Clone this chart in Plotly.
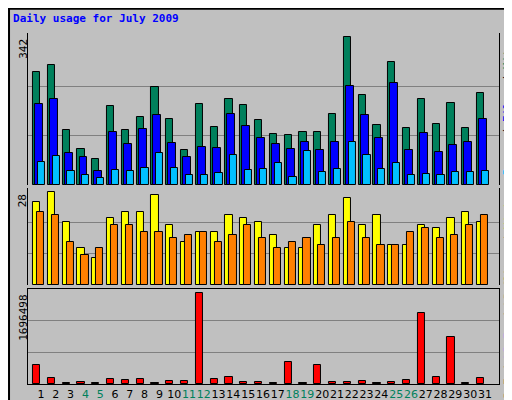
import plotly.graph_objects as go

days = list(range(1, 32))
hits = [261, 277, 128, 84, 60, 184, 128, 158, 226, 154, 81, 188, 135, 200, 186, 151,
        119, 116, 123, 123, 165, 342, 209, 140, 286, 131, 200, 142, 191, 133, 214]
files = [188, 200, 74, 65, 33, 123, 95, 130, 163, 98, 65, 88, 86, 165, 137, 109,
         95, 84, 100, 81, 100, 230, 163, 109, 237, 81, 121, 77, 93, 100, 154]
pages = [54, 67, 33, 23, 16, 35, 33, 40, 74, 40, 23, 23, 28, 70, 35, 37,
         51, 19, 79, 30, 37, 100, 70, 37, 51, 23, 26, 23, 30, 30, 33]
visits = [25, 28, 19, 11, 8, 20, 22, 22, 27, 18, 13, 16, 16, 21, 20, 19,
          15, 11, 11, 18, 21, 26, 18, 21, 12, 12, 18, 17, 20, 22, 19]
sites = [22, 21, 13, 9, 11, 18, 18, 16, 16, 14, 15, 16, 13, 15, 18, 14,
         11, 13, 14, 12, 14, 19, 14, 12, 12, 16, 17, 14, 15, 18, 21]
kbytes = [359000, 118000, 25000, 43000, 25000, 99000, 80000, 99000, 25000, 62000, 62000,
          1696498, 99000, 136000, 43000, 43000, 25000, 415000, 25000, 359000, 43000,
          43000, 62000, 25000, 43000, 80000, 1325000, 136000, 879000, 25000, 118000]
weekend = [4, 5, 11, 12, 18, 19, 25, 26]

line = dict(color="black", width=1)
fig = go.Figure()
fig.add_trace(go.Bar(x=days, y=hits, marker=dict(color="#00805C", line=line), offset=-0.54, width=0.49, yaxis="y3"))
fig.add_trace(go.Bar(x=days, y=files, marker=dict(color="#0000FF", line=line), offset=-0.4, width=0.54, yaxis="y3"))
fig.add_trace(go.Bar(x=days, y=pages, marker=dict(color="#00C0FF", line=line), offset=-0.22, width=0.49, yaxis="y3"))
fig.add_trace(go.Bar(x=days, y=visits, marker=dict(color="#FFFF00", line=line), offset=-0.54, width=0.48, yaxis="y2"))
fig.add_trace(go.Bar(x=days, y=sites, marker=dict(color="#FF8000", line=line), offset=-0.27, width=0.48, yaxis="y2"))
fig.add_trace(go.Bar(x=days, y=kbytes, marker=dict(color="#FF0000", line=line), offset=-0.54, width=0.49, yaxis="y"))

ticktext = ['<span style="color:#00805C">%d</span>' % d if d in weekend else str(d) for d in days]
grid = dict(showgrid=True, gridcolor="#808080", gridwidth=1, zeroline=False, showticklabels=False,
            showline=True, linecolor="black", mirror=True, fixedrange=True)

kb_top = 1764000
fig.update_layout(
    width=512, height=400, margin=dict(l=0, r=0, t=0, b=0),
    paper_bgcolor="#C0C0C0", plot_bgcolor="#C0C0C0",
    barmode="overlay", showlegend=False, bargap=0,
    font=dict(family="DejaVu Sans Mono", size=11, color="black"),
    xaxis=dict(domain=[0.039, 0.959], range=[0.12, 31.95], tickvals=days, ticktext=ticktext,
               tickangle=0, showgrid=False, showline=True, linecolor="black", mirror=True, ticks="",
               anchor="y", tickfont=dict(family="DejaVu Sans", size=11)),
    yaxis=dict(grid, domain=[0.06, 0.2975], range=[0, kb_top], tickvals=[kb_top / 3, kb_top * 2 / 3]),
    yaxis2=dict(grid, domain=[0.3075, 0.55], range=[0, 29.1], tickvals=[9.33, 18.67]),
    yaxis3=dict(grid, domain=[0.5575, 0.9375], range=[0, 352], tickvals=[114, 228]),
    title=dict(text="<b>Daily usage for July 2009</b>", x=0.01, y=0.975, xanchor="left", yanchor="middle",
               font=dict(family="DejaVu Sans Mono", size=11, color="#0000FF")),
    shapes=[dict(type="rect", xref="paper", yref="paper", x0=0.002, y0=0.002, x1=0.998, y1=0.998,
                 line=dict(color="black", width=2))],
)

ann = [("342", 0.9375), ("28", 0.55), ("1696498", 0.2975)]
for txt, y in ann:
    fig.add_annotation(text=txt, x=0.029, y=y - 0.01, xref="paper", yref="paper", textangle=-90,
                       xanchor="center", yanchor="top", showarrow=False, font=dict(size=11))

right = [
    ('<span style="color:#00C0FF">Pages</span> / <span style="color:#0000FF">Files</span> / <span style="color:#00805C">Hits</span>', 0.7475),
    ('<span style="color:#FF8000">Sites</span> / <span style="color:#FFFF00">Visits</span>', 0.43),
    ('<span style="color:#FF0000">kB F</span> / <span style="color:#0000FF">kB In</span> / <span style="color:#00805C">kB Out</span>', 0.18),
]
for txt, y in right:
    fig.add_annotation(text=txt, x=0.977, y=y, xref="paper", yref="paper", textangle=-90,
                       xanchor="center", yanchor="middle", showarrow=False, font=dict(size=11))

fig.write_html("out.html")
